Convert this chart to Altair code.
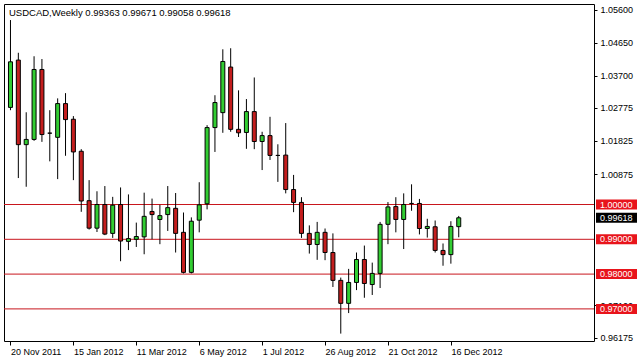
import altair as alt
import pandas as pd

opens = [1.0279, 1.0415, 1.0172, 1.0187, 1.0388, 1.0205, 1.0193, 1.0290, 1.0245, 1.0153,
         1.0011, 0.9932, 1.0000, 0.9917, 1.0000, 0.9894, 0.9900, 0.9907, 0.9980, 0.9957,
         0.9971, 0.9989, 0.9920, 0.9805, 0.9955, 1.0002, 1.0221, 1.0264, 1.0395, 1.0216,
         1.0207, 1.0267, 1.0181, 1.0198, 1.0141, 1.0142, 1.0043, 1.0006, 0.9917, 0.9885,
         0.9920, 0.9862, 0.9782, 0.9716, 0.9776, 0.9842, 0.9770, 0.9802, 0.9943, 0.9994,
         0.9957, 1.0003, 1.0003, 0.9931, 0.9936, 0.9868, 0.9856, 0.99363]
highs = [1.0530, 1.0436, 1.0265, 1.0426, 1.0418, 1.0271, 1.0305, 1.0320, 1.0254, 1.0159,
         1.0070, 1.0038, 1.0053, 1.0022, 1.0049, 1.0029, 0.9948, 1.0034, 1.0017, 0.9999,
         1.0053, 1.0033, 0.9977, 0.9963, 1.0064, 1.0228, 1.0314, 1.0446, 1.0449, 1.0328,
         1.0303, 1.0365, 1.0209, 1.0252, 1.0173, 1.0234, 1.0085, 1.0021, 0.9940, 0.9950,
         0.9931, 0.9917, 0.9790, 0.9815, 0.9862, 0.9882, 0.9833, 0.9950, 1.0007, 1.0021,
         1.0032, 1.0058, 1.0016, 0.9959, 0.9954, 0.9888, 0.9952, 0.99671]
lows = [1.0271, 1.0076, 1.0051, 1.0183, 1.0180, 1.0124, 1.0073, 1.0140, 1.0070, 0.9979,
        0.9928, 0.9921, 0.9912, 0.9904, 0.9837, 0.9869, 0.9878, 0.9857, 0.9900, 0.9886,
        0.9924, 0.9862, 0.9802, 0.9802, 0.9920, 0.9986, 1.0151, 1.0206, 1.0209, 1.0194,
        1.0160, 1.0159, 1.0099, 1.0128, 1.0065, 1.0032, 0.9978, 0.9904, 0.9859, 0.9841,
        0.9840, 0.9763, 0.9629, 0.9688, 0.9754, 0.9732, 0.9740, 0.9760, 0.9886, 0.9920,
        0.9872, 0.9982, 0.9914, 0.9905, 0.9862, 0.9824, 0.9830, 0.99058]
closes = [1.0410, 1.0172, 1.0187, 1.0388, 1.0201, 1.0205, 1.0290, 1.0244, 1.0151, 1.0010,
          0.9932, 1.0000, 0.9915, 0.9998, 0.9895, 0.9902, 0.9908, 0.9966, 0.9971, 0.9968,
          0.9991, 0.9917, 0.9805, 0.9952, 0.9999, 1.0221, 1.0293, 1.0411, 1.0216, 1.0206,
          1.0267, 1.0181, 1.0198, 1.0141, 1.0141, 1.0043, 1.0006, 0.9917, 0.9885, 0.9920,
          0.9862, 0.9782, 0.9716, 0.9776, 0.9842, 0.9773, 0.9802, 0.9943, 0.9993, 0.9957,
          1.0000, 1.0003, 0.9931, 0.9937, 0.9868, 0.9856, 0.9937, 0.99618]

date_labels = ["20 Nov 2011", "15 Jan 2012", "11 Mar 2012", "6 May 2012",
               "1 Jul 2012", "26 Aug 2012", "21 Oct 2012", "16 Dec 2012"]
date_ticks = [0, 8, 16, 24, 32, 40, 48, 56]

price_ticks = [1.056, 1.0465, 1.037, 1.02775, 1.01825, 1.00875, 0.971, 0.96175]
levels = [1.0, 0.99, 0.98, 0.97]
level_text = ["1.00000", "0.99000", "0.98000", "0.97000"]
current_price = [0.99618]
current_text = ["0.99618"]
title_text = "USDCAD,Weekly  0.99363 0.99671 0.99058 0.99618"

FONT = "Liberation Sans"

df = pd.DataFrame({"i": list(range(len(opens))), "open": opens, "high": highs,
                   "low": lows, "close": closes})
df["dir"] = ["up" if c >= o else "down" for o, c in zip(opens, closes)]

lv = pd.DataFrame({"p": levels, "t": level_text})
cur = pd.DataFrame({"p": current_price, "t": current_text})

xs = alt.Scale(domain=[-0.1875, 73.5625], nice=False, zero=False)
ys = alt.Scale(domain=[0.960776, 1.057615], nice=False, zero=False)

label_expr = "[" + ",".join("'%s'" % s for s in date_labels) + "][floor(datum.value/8)]"

x_axis = alt.Axis(values=date_ticks, labelExpr=label_expr, orient="bottom", domain=False,
                  ticks=True, tickSize=4, tickColor="black", labelAlign="left",
                  labelBaseline="top", labelPadding=2, labelFont=FONT, labelFontSize=9,
                  labelColor="black", labelOverlap=False, labelFlush=False, grid=False,
                  title=None)
y_axis = alt.Axis(values=price_ticks, format=".5f", orient="right", domain=False,
                  ticks=True, tickSize=3, tickColor="black", labelAlign="left",
                  labelPadding=3, labelFont=FONT, labelFontSize=9, labelColor="black",
                  labelOverlap=False, labelFlush=False, grid=False, title=None)

lines = alt.Chart(lv).mark_rule(color="#c8161d", strokeWidth=1).encode(
    y=alt.Y("p:Q", scale=ys, axis=y_axis))

wicks = alt.Chart(df).mark_rule(color="black", strokeWidth=1, clip=True).encode(
    x=alt.X("i:Q", scale=xs, axis=x_axis),
    y=alt.Y("low:Q", scale=ys),
    y2="high:Q")

bodies = alt.Chart(df).mark_bar(size=4, stroke="black", strokeWidth=1, clip=True).encode(
    x=alt.X("i:Q", scale=xs),
    y=alt.Y("open:Q", scale=ys),
    y2="close:Q",
    color=alt.Color("dir:N", scale=alt.Scale(domain=["up", "down"],
                                              range=["#32cd32", "#c41e1e"]), legend=None))

title = alt.Chart(pd.DataFrame({"t": [title_text]})).mark_text(
    align="left", baseline="middle", font=FONT, fontSize=9.5, color="black").encode(
    x=alt.value(5), y=alt.value(9), text="t:N")

lvl_box = alt.Chart(lv).mark_rect(color="#e8141b", yOffset=-5, y2Offset=5, clip=False).encode(
    x=alt.value(592), x2=alt.value(633), y=alt.Y("p:Q", scale=ys), y2="p:Q")
lvl_txt = alt.Chart(lv).mark_text(align="left", baseline="middle", font=FONT, fontSize=9,
                                  color="white", clip=False).encode(
    x=alt.value(596), y=alt.Y("p:Q", scale=ys), text="t:N")

cur_box = alt.Chart(cur).mark_rect(color="black", yOffset=-5, y2Offset=5, clip=False).encode(
    x=alt.value(592), x2=alt.value(633), y=alt.Y("p:Q", scale=ys), y2="p:Q")
cur_txt = alt.Chart(cur).mark_text(align="left", baseline="middle", font=FONT, fontSize=9,
                                   color="white", clip=False).encode(
    x=alt.value(596), y=alt.Y("p:Q", scale=ys), text="t:N")

chart = alt.layer(lines, wicks, bodies, title, lvl_box, lvl_txt, cur_box, cur_txt).properties(
    width=590, height=337,
    padding={"left": 4, "top": 4, "right": 45, "bottom": 20},
    autosize=alt.AutoSizeParams(type="none"),
    background="white",
).configure_view(stroke="black", strokeWidth=1)

chart.save("out.html", embed_options={"renderer": "svg", "actions": False})
